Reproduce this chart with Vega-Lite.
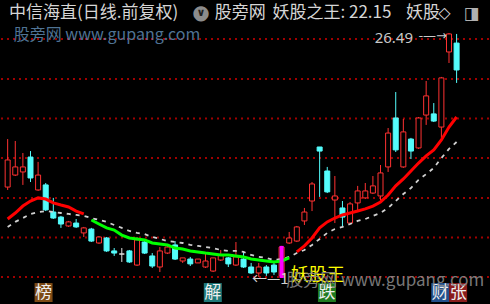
{
  "$schema": "https://vega.github.io/schema/vega-lite/v6.json",
  "width": 490,
  "height": 304,
  "autosize": {"type": "fit", "contains": "padding"},
  "padding": 0,
  "background": "#000000",
  "config": {"view": {"stroke": null}, "text": {"font": "Noto Sans CJK SC"}},
  "datasets": {
    "candles": [
      {"i":0,"o":18.53,"c":19.93,"h":21.01,"l":18.38},
      {"i":1,"o":19.15,"c":19.57,"h":20.91,"l":19.10},
      {"i":2,"o":19.31,"c":19.57,"h":20.29,"l":18.64},
      {"i":3,"o":20.08,"c":19.00,"h":20.39,"l":18.79},
      {"i":4,"o":18.38,"c":19.15,"h":19.83,"l":18.33},
      {"i":5,"o":18.64,"c":17.35,"h":18.74,"l":17.29},
      {"i":6,"o":17.24,"c":16.93,"h":17.97,"l":16.88},
      {"i":7,"o":16.98,"c":16.62,"h":17.04,"l":16.42},
      {"i":8,"o":16.52,"c":16.73,"h":16.78,"l":16.47},
      {"i":9,"o":16.67,"c":16.47,"h":16.88,"l":16.42},
      {"i":10,"o":16.16,"c":16.42,"h":16.47,"l":15.95},
      {"i":11,"o":16.36,"c":15.74,"h":16.42,"l":15.69},
      {"i":12,"o":15.64,"c":15.95,"h":16.00,"l":15.59},
      {"i":13,"o":15.90,"c":15.23,"h":15.95,"l":15.18},
      {"i":14,"o":15.23,"c":15.12,"h":15.38,"l":14.97},
      {"i":15,"o":15.07,"c":15.07,"h":15.38,"l":14.66},
      {"i":16,"o":15.23,"c":14.66,"h":15.28,"l":14.61},
      {"i":17,"o":14.50,"c":15.80,"h":15.95,"l":14.45},
      {"i":18,"o":15.69,"c":15.12,"h":15.74,"l":15.07},
      {"i":19,"o":14.97,"c":14.45,"h":15.12,"l":14.35},
      {"i":20,"o":14.40,"c":15.23,"h":15.43,"l":14.14},
      {"i":21,"o":15.12,"c":15.43,"h":15.54,"l":15.07},
      {"i":22,"o":15.54,"c":14.81,"h":15.74,"l":14.76},
      {"i":23,"o":14.71,"c":14.87,"h":14.87,"l":14.61},
      {"i":24,"o":14.81,"c":14.56,"h":14.92,"l":14.45},
      {"i":25,"o":14.61,"c":14.81,"h":14.81,"l":14.61},
      {"i":26,"o":14.40,"c":14.71,"h":15.12,"l":14.35},
      {"i":27,"o":14.19,"c":14.87,"h":14.87,"l":14.14},
      {"i":28,"o":14.76,"c":15.02,"h":15.28,"l":14.71},
      {"i":29,"o":14.87,"c":14.56,"h":14.92,"l":14.40},
      {"i":30,"o":14.50,"c":14.92,"h":15.69,"l":14.45},
      {"i":31,"o":14.81,"c":14.40,"h":15.18,"l":14.35},
      {"i":32,"o":14.40,"c":14.09,"h":14.61,"l":14.04},
      {"i":33,"o":14.09,"c":14.40,"h":14.61,"l":13.88},
      {"i":34,"o":14.40,"c":14.09,"h":14.50,"l":13.94},
      {"i":35,"o":14.50,"c":14.14,"h":14.66,"l":13.99},
      {"i":36,"o":13.94,"c":15.43,"h":15.49,"l":13.83},
      {"i":37,"o":15.64,"c":15.90,"h":16.21,"l":15.59},
      {"i":38,"o":15.74,"c":16.47,"h":16.52,"l":15.69},
      {"i":39,"o":16.78,"c":17.24,"h":17.45,"l":16.57},
      {"i":40,"o":17.81,"c":18.69,"h":18.79,"l":17.29},
      {"i":41,"o":20.60,"c":20.39,"h":20.60,"l":18.02},
      {"i":42,"o":19.36,"c":18.28,"h":19.57,"l":18.22},
      {"i":43,"o":17.86,"c":18.07,"h":19.10,"l":16.67},
      {"i":44,"o":17.45,"c":16.98,"h":17.81,"l":16.47},
      {"i":45,"o":16.67,"c":17.66,"h":17.76,"l":16.62},
      {"i":46,"o":17.71,"c":18.33,"h":18.59,"l":17.24},
      {"i":47,"o":17.97,"c":18.33,"h":18.74,"l":17.91},
      {"i":48,"o":18.22,"c":18.59,"h":19.10,"l":18.17},
      {"i":49,"o":18.07,"c":19.26,"h":19.67,"l":17.86},
      {"i":50,"o":19.57,"c":21.32,"h":21.58,"l":19.31},
      {"i":51,"o":22.10,"c":20.45,"h":23.44,"l":20.34},
      {"i":52,"o":19.57,"c":21.38,"h":22.05,"l":19.52},
      {"i":53,"o":21.01,"c":20.39,"h":21.07,"l":19.98},
      {"i":54,"o":20.55,"c":22.10,"h":22.15,"l":20.50},
      {"i":55,"o":22.25,"c":23.24,"h":24.01,"l":21.74},
      {"i":56,"o":22.31,"c":21.94,"h":22.87,"l":21.89},
      {"i":57,"o":21.63,"c":24.17,"h":24.22,"l":21.07},
      {"i":58,"o":25.51,"c":26.44,"h":26.49,"l":24.94},
      {"i":59,"o":25.97,"c":24.58,"h":26.44,"l":23.91}
    ],
    "lines": [
      {"i":0,"v":16.88,"w":16.47,"seg":"up1"},
      {"i":1,"v":17.19,"w":16.73,"seg":"up1"},
      {"i":2,"v":17.55,"w":16.93,"seg":"up1"},
      {"i":3,"v":17.81,"w":17.14,"seg":"up1"},
      {"i":4,"v":17.97,"w":17.24,"seg":"up1"},
      {"i":5,"v":17.91,"w":17.29,"seg":"up1"},
      {"i":6,"v":17.71,"w":17.24,"seg":"up1"},
      {"i":7,"v":17.60,"w":17.19,"seg":"up1"},
      {"i":8,"v":17.50,"w":17.14,"seg":"up1"},
      {"i":9,"v":17.29,"w":17.09,"seg":"up1"},
      {"i":10,"v":17.14,"w":17.04,"seg":"up1"},
      {"i":11,"v":16.83,"w":16.93,"seg":"down"},
      {"i":12,"v":16.62,"w":16.83,"seg":"down"},
      {"i":13,"v":16.42,"w":16.73,"seg":"down"},
      {"i":14,"v":16.31,"w":16.57,"seg":"down"},
      {"i":15,"v":16.05,"w":16.42,"seg":"down"},
      {"i":16,"v":15.90,"w":16.26,"seg":"down"},
      {"i":17,"v":15.85,"w":16.16,"seg":"down"},
      {"i":18,"v":15.80,"w":16.10,"seg":"down"},
      {"i":19,"v":15.64,"w":15.95,"seg":"down"},
      {"i":20,"v":15.59,"w":15.85,"seg":"down"},
      {"i":21,"v":15.54,"w":15.74,"seg":"down"},
      {"i":22,"v":15.38,"w":15.69,"seg":"down"},
      {"i":23,"v":15.33,"w":15.64,"seg":"down"},
      {"i":24,"v":15.23,"w":15.54,"seg":"down"},
      {"i":25,"v":15.18,"w":15.49,"seg":"down"},
      {"i":26,"v":15.12,"w":15.43,"seg":"down"},
      {"i":27,"v":15.07,"w":15.38,"seg":"down"},
      {"i":28,"v":15.02,"w":15.28,"seg":"down"},
      {"i":29,"v":15.02,"w":15.23,"seg":"down"},
      {"i":30,"v":14.97,"w":15.23,"seg":"down"},
      {"i":31,"v":14.92,"w":15.18,"seg":"down"},
      {"i":32,"v":14.81,"w":15.02,"seg":"down"},
      {"i":33,"v":14.76,"w":14.92,"seg":"down"},
      {"i":34,"v":14.71,"w":14.87,"seg":"down"},
      {"i":35,"v":14.66,"w":14.76,"seg":"down"},
      {"i":36,"v":14.71,"w":14.81,"seg":"down"},
      {"i":37,"v":14.87,"w":14.92,"seg":"down"},
      {"i":38,"v":15.18,"w":15.12,"seg":"up2"},
      {"i":39,"v":15.49,"w":15.28,"seg":"up2"},
      {"i":40,"v":15.90,"w":15.54,"seg":"up2"},
      {"i":41,"v":16.42,"w":15.85,"seg":"up2"},
      {"i":42,"v":16.73,"w":16.16,"seg":"up2"},
      {"i":43,"v":16.93,"w":16.36,"seg":"up2"},
      {"i":44,"v":17.09,"w":16.47,"seg":"up2"},
      {"i":45,"v":17.19,"w":16.62,"seg":"up2"},
      {"i":46,"v":17.29,"w":16.78,"seg":"up2"},
      {"i":47,"v":17.40,"w":16.88,"seg":"up2"},
      {"i":48,"v":17.55,"w":17.04,"seg":"up2"},
      {"i":49,"v":17.76,"w":17.19,"seg":"up2"},
      {"i":50,"v":18.12,"w":17.45,"seg":"up2"},
      {"i":51,"v":18.59,"w":17.81,"seg":"up2"},
      {"i":52,"v":18.95,"w":18.17,"seg":"up2"},
      {"i":53,"v":19.36,"w":18.48,"seg":"up2"},
      {"i":54,"v":19.77,"w":18.90,"seg":"up2"},
      {"i":55,"v":20.14,"w":19.20,"seg":"up2"},
      {"i":56,"v":20.45,"w":19.52,"seg":"up2"},
      {"i":57,"v":20.96,"w":20.03,"seg":"up2"},
      {"i":58,"v":21.63,"w":20.50,"seg":"up2"},
      {"i":59,"v":22.15,"w":20.86,"seg":"up2"}
    ],
    "grid": [
      {"p":26.18},{"p":24.11},{"p":22.07},{"p":20.03},{"p":17.97},{"p":15.92},{"p":13.88}
    ],
    "signals": [{"i":36,"h":15.49,"l":13.83}],
    "tags": [
      {"i":4.72,"tag":"榜"},
      {"i":26.96,"tag":"解"},
      {"i":41.96,"tag":"跌"},
      {"i":56.85,"tag":"财"},
      {"i":59.2,"tag":"张"}
    ]
  },
  "encoding": {
    "x": {"field": "i", "type": "quantitative", "axis": null,
          "scale": {"domain": [-0.218, 62.6], "nice": false, "zero": false}}
  },
  "layer": [
    {
      "data": {"name": "grid"},
      "mark": {"type": "rule", "stroke": "#a00000", "strokeWidth": 2, "strokeDash": [2, 4]},
      "encoding": {
        "x": null,
        "y": {"field": "p", "type": "quantitative", "axis": null,
              "scale": {"domain": [12.488, 28.195], "nice": false, "zero": false}}
      }
    },
    {
      "data": {"name": "candles"},
      "mark": {"type": "rule", "strokeWidth": 1},
      "encoding": {
        "y": {"field": "l", "type": "quantitative", "axis": null,
              "scale": {"domain": [12.488, 28.195], "nice": false, "zero": false}},
        "y2": {"field": "h"},
        "stroke": {"condition": [
          {"test": "datum.c > datum.o", "value": "#ff3232"},
          {"test": "datum.c < datum.o", "value": "#54fcfc"}
        ], "value": "#e0e0e0"}
      }
    },
    {
      "data": {"name": "candles"},
      "mark": {"type": "bar", "width": 5, "strokeWidth": 1},
      "encoding": {
        "y": {"field": "o", "type": "quantitative", "axis": null,
              "scale": {"domain": [12.488, 28.195], "nice": false, "zero": false}},
        "y2": {"field": "c"},
        "fill": {"condition": {"test": "datum.c > datum.o", "value": "#000000"}, "value": "#54fcfc"},
        "stroke": {"condition": [
          {"test": "datum.c > datum.o", "value": "#ff3232"},
          {"test": "datum.c < datum.o", "value": "#54fcfc"}
        ], "value": "#e0e0e0"}
      }
    },
    {
      "data": {"name": "lines"},
      "mark": {"type": "line", "stroke": "#d0d0d0", "strokeWidth": 1.8, "strokeDash": [4, 5]},
      "encoding": {
        "y": {"field": "w", "type": "quantitative", "axis": null,
              "scale": {"domain": [12.488, 28.195], "nice": false, "zero": false}}
      }
    },
    {
      "data": {"name": "lines"},
      "mark": {"type": "line", "strokeWidth": 3},
      "encoding": {
        "y": {"field": "v", "type": "quantitative", "axis": null,
              "scale": {"domain": [12.488, 28.195], "nice": false, "zero": false}},
        "stroke": {"field": "seg", "type": "nominal", "legend": null,
                   "scale": {"domain": ["up1", "down", "up2"], "range": ["#ff0000", "#00ff00", "#ff0000"]}}
      }
    },
    {
      "data": {"name": "signals"},
      "mark": {"type": "bar", "width": 4, "fill": "#ff00ff"},
      "encoding": {
        "y": {"field": "l", "type": "quantitative", "axis": null,
              "scale": {"domain": [12.488, 28.195], "nice": false, "zero": false}},
        "y2": {"field": "h"}
      }
    },
    {
      "data": {"values": [{"i": 58, "h": 26.49}]},
      "mark": {"type": "text", "align": "right", "baseline": "middle", "dx": -36, "dy": 5, "fontSize": 15, "fill": "#c8c8c8", "font": "Noto Sans"},
      "encoding": {
        "y": {"field": "h", "type": "quantitative", "axis": null,
              "scale": {"domain": [12.488, 28.195], "nice": false, "zero": false}},
        "text": {"field": "h", "type": "quantitative", "format": ".2f"}
      }
    },
    {
      "data": {"values": [{"i": 58, "h": 26.49, "arrow": "-—→"}]},
      "mark": {"type": "text", "align": "right", "baseline": "middle", "dx": -2, "dy": 3, "fontSize": 13, "fill": "#c8c8c8", "font": "DejaVu Sans"},
      "encoding": {
        "y": {"field": "h", "type": "quantitative"},
        "text": {"field": "arrow"}
      }
    },
    {
      "data": {"name": "tags"},
      "mark": {"type": "bar", "width": 18},
      "encoding": {
        "y": {"datum": 13.57, "type": "quantitative"},
        "y2": {"datum": 12.59},
        "fill": {"field": "tag", "type": "nominal", "legend": null,
                 "scale": {"domain": ["榜", "解", "跌", "财", "张"],
                           "range": ["#7d4a14", "#1f7878", "#1f7a1f", "#22508c", "#8a1c1c"]}}
      }
    },
    {
      "data": {"name": "tags"},
      "mark": {"type": "text", "align": "center", "baseline": "middle", "fontSize": 17, "fill": "#eeeeee"},
      "encoding": {
        "y": {"datum": 13.08, "type": "quantitative"},
        "text": {"field": "tag"}
      }
    },
    {
      "data": {"values": [
        {"i": 0.17, "p": 27.52, "t": "中信海直(日线.前复权)"},
        {"i": 27.2, "p": 27.52, "t": "股旁网"},
        {"i": 34.8, "p": 27.52, "t": "妖股之王: 22.15"},
        {"i": 52.35, "p": 27.52, "t": "妖股"}
      ]},
      "mark": {"type": "text", "align": "left", "baseline": "middle", "fontSize": 17, "fill": "#d6d6d6"},
      "encoding": {
        "y": {"field": "p", "type": "quantitative"},
        "text": {"field": "t"}
      }
    },
    {
      "data": {"values": [{"i": 57.4, "p": 27.52, "t": "◇"}]},
      "mark": {"type": "text", "align": "center", "baseline": "middle", "fontSize": 16, "fill": "#d6d6d6", "font": "DejaVu Sans"},
      "encoding": {
        "y": {"field": "p", "type": "quantitative"},
        "text": {"field": "t"}
      }
    },
    {
      "data": {"values": [{"i": 25.42, "p": 27.52, "t": "●"}]},
      "mark": {"type": "text", "align": "center", "baseline": "middle", "fontSize": 20, "fill": "#8c8c8c", "font": "DejaVu Sans"},
      "encoding": {
        "y": {"field": "p", "type": "quantitative"},
        "text": {"field": "t"}
      }
    },
    {
      "data": {"values": [{"i": 25.42, "p": 27.52, "t": "∨"}]},
      "mark": {"type": "text", "align": "center", "baseline": "middle", "fontSize": 11, "fontWeight": "bold", "fill": "#202020", "font": "DejaVu Sans"},
      "encoding": {
        "y": {"field": "p", "type": "quantitative"},
        "text": {"field": "t"}
      }
    },
    {
      "data": {"values": [{"i": 60.95, "p": 27.45, "t": "◨"}]},
      "mark": {"type": "text", "align": "center", "baseline": "middle", "fontSize": 17, "fill": "#b0b0b0", "font": "DejaVu Sans"},
      "encoding": {
        "y": {"field": "p", "type": "quantitative"},
        "text": {"field": "t"}
      }
    },
    {
      "data": {"values": [{"i": 0.8, "p": 26.39, "t": "股旁网 www.gupang.com"}]},
      "mark": {"type": "text", "align": "left", "baseline": "middle", "fontSize": 16, "fill": "#4f7394"},
      "encoding": {
        "y": {"field": "p", "type": "quantitative"},
        "text": {"field": "t"}
      }
    },
    {
      "data": {"values": [{"i": 32.1, "p": 13.78, "t": "←—1"}]},
      "mark": {"type": "text", "align": "left", "baseline": "middle", "fontSize": 15, "fill": "#d0d0d0"},
      "encoding": {
        "y": {"field": "p", "type": "quantitative"},
        "text": {"field": "t"}
      }
    },
    {
      "data": {"values": [{"i": 37.2, "p": 13.94, "t": "妖股王"}]},
      "mark": {"type": "text", "align": "left", "baseline": "middle", "fontSize": 18, "fill": "#ffff00"},
      "encoding": {
        "y": {"field": "p", "type": "quantitative"},
        "text": {"field": "t"}
      }
    },
    {
      "data": {"values": [{"i": 36.6, "p": 13.68, "t": "股旁网 www.gupang.com"}]},
      "mark": {"type": "text", "align": "left", "baseline": "middle", "fontSize": 17, "fill": "#8c8c8c", "opacity": 0.85},
      "encoding": {
        "y": {"field": "p", "type": "quantitative"},
        "text": {"field": "t"}
      }
    }
  ]
}
